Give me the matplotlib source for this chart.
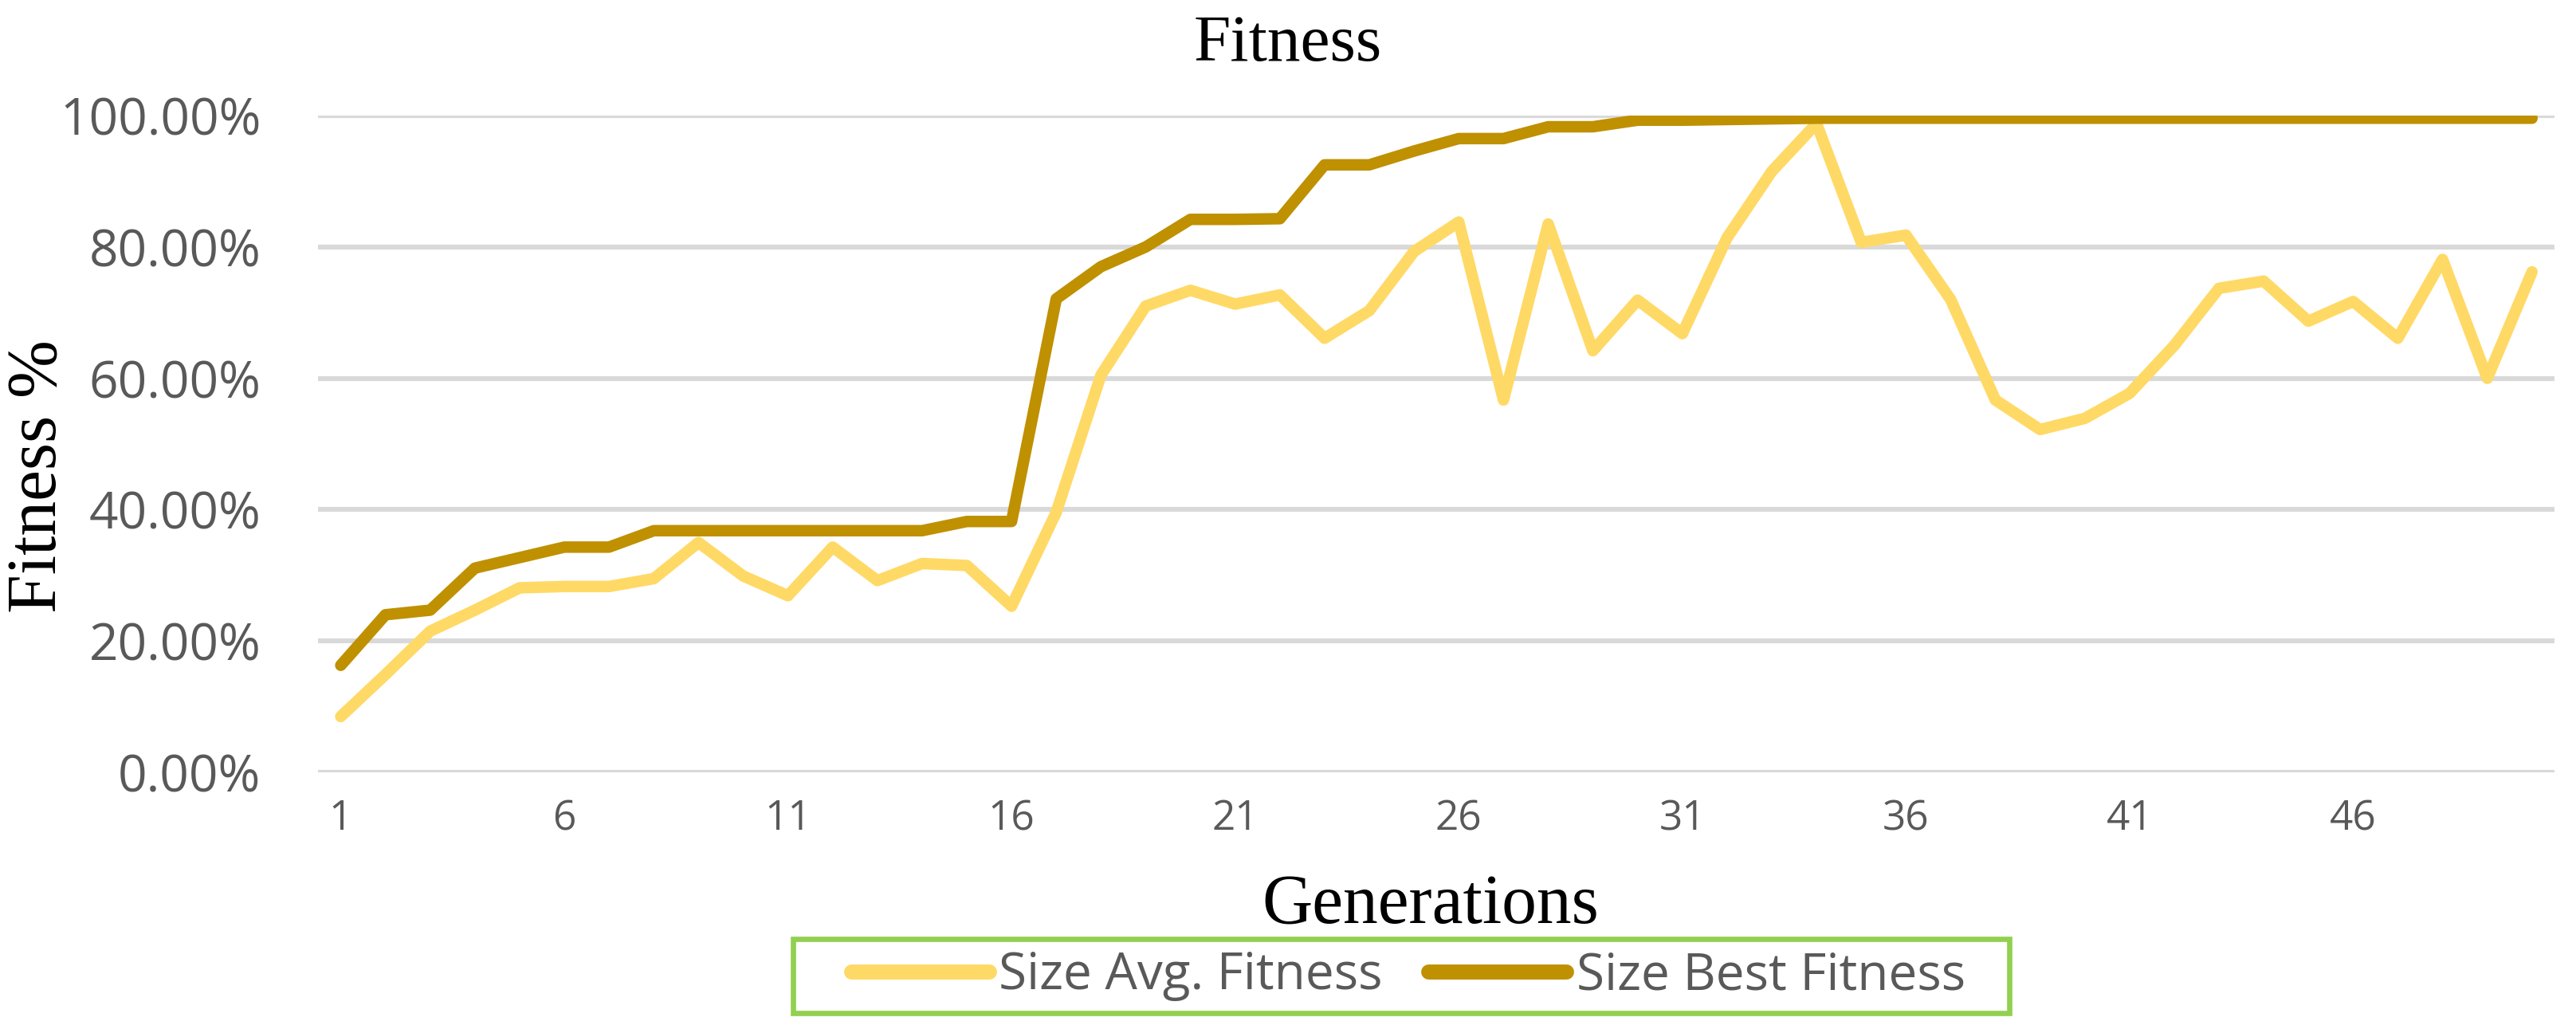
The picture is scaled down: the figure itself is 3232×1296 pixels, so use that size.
import matplotlib
matplotlib.use("Agg")
import matplotlib.pyplot as plt
from matplotlib.patches import Rectangle
from matplotlib.ticker import PercentFormatter

# Data (fitness as a fraction)
generations = list(range(1, 51))
avg_fitness = [
    0.085, 0.149, 0.215, 0.247, 0.281, 0.283, 0.283, 0.295, 0.350, 0.299,
    0.269, 0.343, 0.292, 0.318, 0.315, 0.253, 0.396, 0.605, 0.710, 0.734,
    0.713, 0.727, 0.661, 0.703, 0.793, 0.838, 0.567, 0.835, 0.642, 0.719,
    0.668, 0.814, 0.915, 0.988, 0.807, 0.818, 0.720, 0.567, 0.522, 0.539,
    0.577, 0.650, 0.737, 0.748, 0.687, 0.717, 0.661, 0.781, 0.600, 0.762,
]
best_fitness = [
    0.163, 0.240, 0.247, 0.311, 0.327, 0.343, 0.343, 0.368, 0.368, 0.368,
    0.368, 0.368, 0.368, 0.368, 0.382, 0.382, 0.721, 0.770, 0.800, 0.842,
    0.842, 0.843, 0.925, 0.925, 0.946, 0.965, 0.965, 0.983, 0.983, 0.993,
    0.993, 0.994, 0.995, 0.996, 0.996, 0.996, 0.996, 0.996, 0.996, 0.996,
    0.996, 0.996, 0.996, 0.996, 0.996, 0.996, 0.996, 0.996, 0.996, 0.996,
]
xtick_values = [1, 6, 11, 16, 21, 26, 31, 36, 41, 46]

avg_color = '#FFD966'
best_color = '#BF9000'
grid_color = '#D9D9D9'
text_gray = '#595959'
sans = 'Open Sans'
serif = 'Liberation Serif'
W, H = 3232, 1296

fig = plt.figure(figsize=(16.16, 6.48), dpi=200)
ax = fig.add_axes([0.1236, 0.2523, 0.868, 0.6358])

ax.plot(generations, avg_fitness, color=avg_color, lw=5.2,
        solid_capstyle='round', solid_joinstyle='round', label='Size Avg. Fitness')
ax.plot(generations, best_fitness, color=best_color, lw=5.2,
        solid_capstyle='round', solid_joinstyle='round', label='Size Best Fitness')

ax.set_xlim(0.5, 50.5)
ax.set_ylim(0, 1)
ax.set_yticks([0, 0.2, 0.4, 0.6, 0.8, 1.0])
ax.yaxis.set_major_formatter(PercentFormatter(1.0, decimals=2))
ax.set_xticks(xtick_values)
ax.grid(axis='y', color=grid_color, lw=2.2)
ax.set_axisbelow(True)
for s in ax.spines.values():
    s.set_visible(False)
ax.tick_params(axis='both', length=0)
ax.tick_params(axis='y', pad=26, labelsize=23, labelcolor=text_gray)
ax.tick_params(axis='x', pad=12, labelsize=18.5, labelcolor=text_gray)
for lbl in ax.get_xticklabels() + ax.get_yticklabels():
    lbl.set_fontfamily(sans)

fig.text(0.5, 0.9414, 'Fitness', ha='center', va='baseline',
         fontsize=30, family=serif)
fig.text(48 / W, 1 - 598 / H, 'Fitness %', ha='center', va='center',
         rotation=90, fontsize=31.5, family=serif)
fig.text(1795 / W, 0.1065, 'Generations', ha='center', va='baseline',
         fontsize=31.5, family=serif)

# legend without its own frame; green box drawn separately
leg = fig.legend(loc='center', bbox_to_anchor=(1767 / W, 1 - 1224.5 / H), ncol=2,
                 frameon=False, handlelength=2.7,
                 handletextpad=0.2, columnspacing=0.9,
                 prop={'family': sans, 'size': 23})
for t in leg.get_texts():
    t.set_color(text_gray)
for h in leg.get_lines():
    h.set_linewidth(6.8)
fig.patches.append(Rectangle((995 / W, 1 - 1271 / H), (2521 - 995) / W, 93 / H,
                             transform=fig.transFigure, fill=False,
                             edgecolor='#92D050', lw=2.4))

fig.savefig('out.png', dpi=200)
